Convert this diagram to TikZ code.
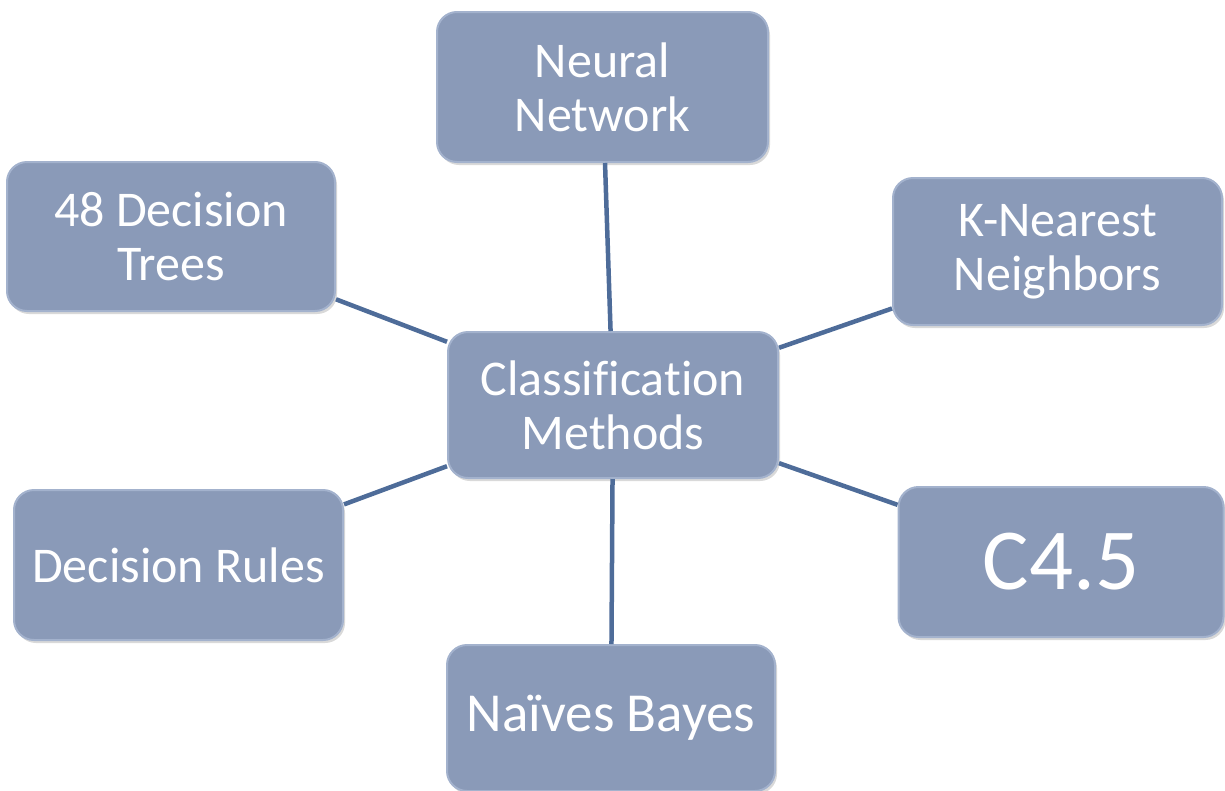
\documentclass[tikz,border=0pt]{standalone}
\usepackage{fontspec}
\setmainfont[Ligatures={NoCommon}]{Carlito}
\usetikzlibrary{shadows}
\definecolor{boxfill}{HTML}{8A9AB8}
\definecolor{boxedge}{HTML}{A3B2CD}
\definecolor{linkcol}{HTML}{4E6C99}
\tikzset{
  methodbox/.style={rectangle, rounded corners=20pt, fill=boxfill, draw=boxedge, line width=2pt,
    inner sep=0pt, align=center, text=white,
    font=\fontsize{50}{54}\selectfont,
    drop shadow={shadow xshift=2pt, shadow yshift=-3pt, opacity=0.25, fill=black!60}},
  link/.style={draw=linkcol, line width=4.5pt}
}
\begin{document}
\begin{tikzpicture}[x=1pt,y=-1pt]
\useasboundingbox (0,0) rectangle (1225,790);
\node[methodbox, minimum width=331pt, minimum height=150pt] (nn) at (602.5,87) {Neural\\Network};
\node[methodbox, minimum width=328pt, minimum height=149pt] (dt) at (171,236.5) {48 Decision\\Trees};
\node[methodbox, minimum width=329pt, minimum height=147pt] (knn) at (1057.5,251.5) {K-Nearest\\Neighbors};
\node[methodbox, minimum width=330pt, minimum height=146pt] (cm) at (613,405) {Classification\\Methods};
\node[methodbox, minimum width=329pt, minimum height=150pt] (dr) at (178.5,565) {Decision Rules};
\node[methodbox, minimum width=325pt, minimum height=150pt, font=\fontsize{87}{92}\selectfont] (c45) at (1061,562) {C4.5};
\node[methodbox, minimum width=328pt, minimum height=146pt, font=\fontsize{55}{60}\selectfont] (nb) at (611,718) {Naïves Bayes};
\path[link] (cm) -- (nn);
\path[link] (cm) -- (dt);
\path[link] (cm) -- (knn);
\path[link] (cm) -- (dr);
\path[link] (cm) -- (c45);
\path[link] (cm) -- (nb);
\end{tikzpicture}
\end{document}
